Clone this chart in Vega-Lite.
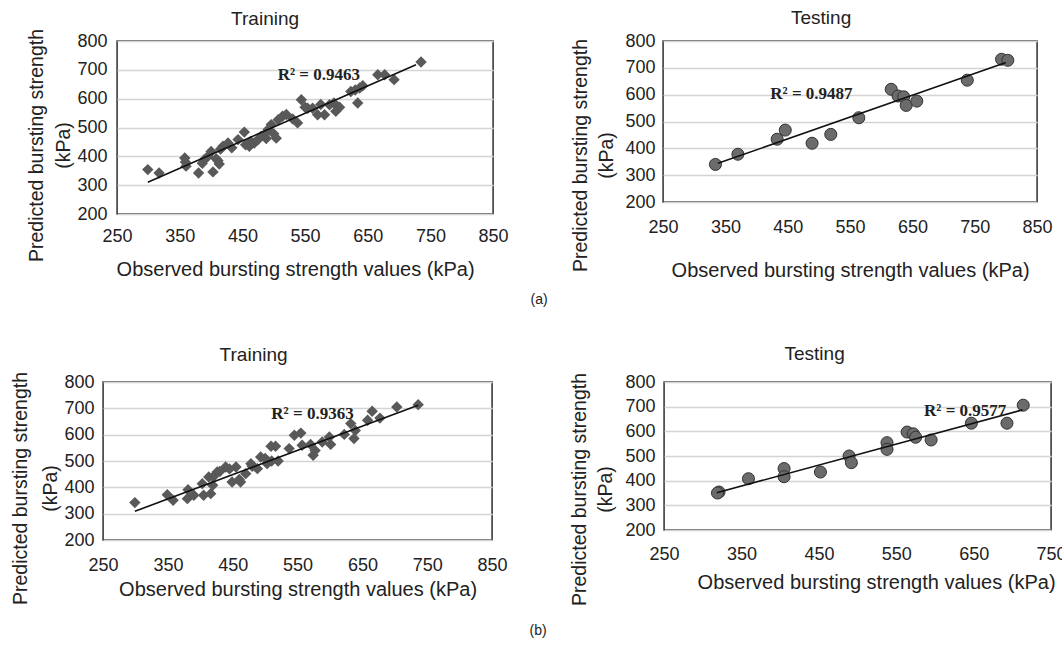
{
  "$schema": "https://vega.github.io/schema/vega-lite/v6.json",
  "background": "white",
  "padding": {"left": 9, "top": 8, "right": 0, "bottom": 0},
  "config": {
    "view": {"stroke": "#3c3c3c", "strokeWidth": 1.6},
    "axis": {
      "labelFont": "Liberation Sans", "titleFont": "Liberation Sans",
      "labelFontSize": 18, "titleFontSize": 20, "titleFontWeight": "normal",
      "labelColor": "#222", "titleColor": "#222",
      "domain": false, "ticks": false, "grid": true, "gridColor": "#d4d4d4", "gridWidth": 1.5
    },
    "axisX": {"grid": false, "labelFlush": false, "labelOverlap": false, "titleFontSize": 20},
    "axisY": {"labelOverlap": false, "titleFontSize": 19.5},
    "title": {"font": "Liberation Sans", "fontSize": 19, "fontWeight": "normal", "color": "#222"}
  },
  "datasets": {
    "tl_points": [
      {"observed": 299, "predicted": 354}, {"observed": 317, "predicted": 342}, {"observed": 358, "predicted": 394},
      {"observed": 359, "predicted": 380}, {"observed": 360, "predicted": 366}, {"observed": 380, "predicted": 342},
      {"observed": 386, "predicted": 376}, {"observed": 389, "predicted": 388}, {"observed": 395, "predicted": 400},
      {"observed": 400, "predicted": 417}, {"observed": 403, "predicted": 346}, {"observed": 408, "predicted": 392},
      {"observed": 411, "predicted": 385}, {"observed": 413, "predicted": 373}, {"observed": 415, "predicted": 425},
      {"observed": 419, "predicted": 435}, {"observed": 427, "predicted": 446}, {"observed": 433, "predicted": 430},
      {"observed": 443, "predicted": 458}, {"observed": 453, "predicted": 484}, {"observed": 455, "predicted": 440},
      {"observed": 461, "predicted": 435}, {"observed": 463, "predicted": 452}, {"observed": 469, "predicted": 446},
      {"observed": 475, "predicted": 458}, {"observed": 480, "predicted": 470}, {"observed": 485, "predicted": 475},
      {"observed": 488, "predicted": 462}, {"observed": 491, "predicted": 493}, {"observed": 496, "predicted": 510},
      {"observed": 500, "predicted": 478}, {"observed": 504, "predicted": 463}, {"observed": 507, "predicted": 527},
      {"observed": 514, "predicted": 539}, {"observed": 520, "predicted": 545}, {"observed": 530, "predicted": 530},
      {"observed": 538, "predicted": 516}, {"observed": 544, "predicted": 596}, {"observed": 550, "predicted": 570},
      {"observed": 554, "predicted": 567}, {"observed": 562, "predicted": 567}, {"observed": 570, "predicted": 544},
      {"observed": 575, "predicted": 580}, {"observed": 581, "predicted": 544}, {"observed": 589, "predicted": 579},
      {"observed": 596, "predicted": 585}, {"observed": 599, "predicted": 556}, {"observed": 605, "predicted": 570},
      {"observed": 623, "predicted": 625}, {"observed": 630, "predicted": 630}, {"observed": 634, "predicted": 585},
      {"observed": 637, "predicted": 637}, {"observed": 642, "predicted": 645}, {"observed": 666, "predicted": 683},
      {"observed": 677, "predicted": 683}, {"observed": 692, "predicted": 666}, {"observed": 735, "predicted": 727}
    ],
    "tl_line": [{"observed": 299, "predicted": 310}, {"observed": 727, "predicted": 718}],
    "tl_r2": [{"observed": 572, "predicted": 682, "label": "R² = 0.9463"}],
    "tr_points": [
      {"observed": 334, "predicted": 340}, {"observed": 370, "predicted": 378}, {"observed": 433, "predicted": 434},
      {"observed": 446, "predicted": 468}, {"observed": 489, "predicted": 419}, {"observed": 519, "predicted": 452},
      {"observed": 564, "predicted": 514}, {"observed": 616, "predicted": 620}, {"observed": 627, "predicted": 595},
      {"observed": 636, "predicted": 592}, {"observed": 640, "predicted": 560}, {"observed": 657, "predicted": 576},
      {"observed": 738, "predicted": 654}, {"observed": 793, "predicted": 732}, {"observed": 803, "predicted": 728}
    ],
    "tr_line": [{"observed": 338, "predicted": 344}, {"observed": 800, "predicted": 720}],
    "tr_r2": [{"observed": 488, "predicted": 601, "label": "R² = 0.9487"}],
    "bl_points": [
      {"observed": 299, "predicted": 342}, {"observed": 349, "predicted": 372}, {"observed": 358, "predicted": 351},
      {"observed": 380, "predicted": 357}, {"observed": 381, "predicted": 391}, {"observed": 390, "predicted": 370},
      {"observed": 403, "predicted": 414}, {"observed": 405, "predicted": 370}, {"observed": 413, "predicted": 439},
      {"observed": 416, "predicted": 376}, {"observed": 419, "predicted": 408}, {"observed": 420, "predicted": 440},
      {"observed": 426, "predicted": 458}, {"observed": 430, "predicted": 460}, {"observed": 439, "predicted": 477},
      {"observed": 445, "predicted": 470}, {"observed": 449, "predicted": 420}, {"observed": 455, "predicted": 477},
      {"observed": 460, "predicted": 430}, {"observed": 462, "predicted": 420}, {"observed": 470, "predicted": 452},
      {"observed": 478, "predicted": 490}, {"observed": 480, "predicted": 480}, {"observed": 488, "predicted": 471},
      {"observed": 493, "predicted": 515}, {"observed": 500, "predicted": 510}, {"observed": 503, "predicted": 490},
      {"observed": 510, "predicted": 500}, {"observed": 509, "predicted": 556}, {"observed": 516, "predicted": 556},
      {"observed": 520, "predicted": 500}, {"observed": 537, "predicted": 547}, {"observed": 545, "predicted": 598},
      {"observed": 555, "predicted": 606}, {"observed": 557, "predicted": 560}, {"observed": 570, "predicted": 563},
      {"observed": 574, "predicted": 522}, {"observed": 577, "predicted": 540}, {"observed": 588, "predicted": 572},
      {"observed": 599, "predicted": 591}, {"observed": 601, "predicted": 563}, {"observed": 622, "predicted": 601},
      {"observed": 632, "predicted": 642}, {"observed": 637, "predicted": 585}, {"observed": 639, "predicted": 616},
      {"observed": 658, "predicted": 655}, {"observed": 665, "predicted": 689}, {"observed": 677, "predicted": 663},
      {"observed": 703, "predicted": 705}, {"observed": 736, "predicted": 714}
    ],
    "bl_line": [{"observed": 299, "predicted": 309}, {"observed": 736, "predicted": 712}],
    "bl_r2": [{"observed": 573, "predicted": 680, "label": "R² = 0.9363"}],
    "br_points": [
      {"observed": 321, "predicted": 354}, {"observed": 319, "predicted": 350}, {"observed": 359, "predicted": 408},
      {"observed": 405, "predicted": 449}, {"observed": 405, "predicted": 416}, {"observed": 452, "predicted": 435},
      {"observed": 489, "predicted": 500}, {"observed": 492, "predicted": 473}, {"observed": 538, "predicted": 554},
      {"observed": 538, "predicted": 527}, {"observed": 564, "predicted": 597}, {"observed": 572, "predicted": 590},
      {"observed": 575, "predicted": 576}, {"observed": 595, "predicted": 565}, {"observed": 647, "predicted": 633},
      {"observed": 693, "predicted": 633}, {"observed": 714, "predicted": 706}
    ],
    "br_line": [{"observed": 318, "predicted": 351}, {"observed": 713, "predicted": 687}],
    "br_r2": [{"observed": 639, "predicted": 682, "label": "R² = 0.9577"}]
  },
  "columns": 1,
  "center": true,
  "spacing": 37,
  "concat": [
    {
      "title": {"text": "(a)", "orient": "bottom", "anchor": "middle", "offset": 12, "fontSize": 14},
      "spacing": 60,
      "hconcat": [
        {
          "width": 376, "height": 173,
          "title": {"text": "Training", "offset": -1, "dx": -40},
          "encoding": {
            "x": {"field": "observed", "type": "quantitative", "scale": {"domain": [250, 850], "nice": false, "zero": false},
                  "axis": {"values": [250, 350, 450, 550, 650, 750, 850], "title": "Observed bursting strength values (kPa)", "titleX": 178, "labelPadding": 13, "titlePadding": 14}},
            "y": {"field": "predicted", "type": "quantitative", "scale": {"domain": [200, 800], "nice": false, "zero": false},
                  "axis": {"values": [200, 300, 400, 500, 600, 700, 800], "title": ["Predicted bursting strength", "(kPa)"], "titleLineHeight": 27, "titleY": 104, "labelPadding": 10, "titlePadding": 4}}
          },
          "layer": [
            {"data": {"name": "tl_points"}, "mark": {"type": "point", "shape": "diamond", "filled": true, "size": 130, "color": "#595959", "opacity": 1}},
            {"data": {"name": "tl_line"}, "mark": {"type": "line", "color": "#111", "strokeWidth": 1.6}},
            {"data": {"name": "tl_r2"}, "mark": {"type": "text", "font": "Liberation Serif", "fontWeight": "bold", "fontSize": 17, "color": "#222"}, "encoding": {"text": {"field": "label"}}}
          ]
        },
        {
          "width": 374, "height": 161,
          "title": {"text": "Testing", "offset": 4, "dx": -29},
          "encoding": {
            "x": {"field": "observed", "type": "quantitative", "scale": {"domain": [250, 850], "nice": false, "zero": false},
                  "axis": {"values": [250, 350, 450, 550, 650, 750, 850], "title": "Observed bursting strength values (kPa)", "labelPadding": 16, "titlePadding": 24}},
            "y": {"field": "predicted", "type": "quantitative", "scale": {"domain": [200, 800], "nice": false, "zero": false},
                  "axis": {"values": [200, 300, 400, 500, 600, 700, 800], "title": ["Predicted bursting strength", "(kPa)"], "titleLineHeight": 26, "titleY": 114, "labelPadding": 8, "titlePadding": 9}}
          },
          "layer": [
            {"data": {"name": "tr_points"}, "mark": {"type": "point", "shape": "circle", "filled": true, "size": 145, "fill": "#6b6b6b", "stroke": "#333", "strokeWidth": 1, "opacity": 1}},
            {"data": {"name": "tr_line"}, "mark": {"type": "line", "color": "#111", "strokeWidth": 1.6}},
            {"data": {"name": "tr_r2"}, "mark": {"type": "text", "font": "Liberation Serif", "fontWeight": "bold", "fontSize": 17, "color": "#222"}, "encoding": {"text": {"field": "label"}}}
          ]
        }
      ]
    },
    {
      "title": {"text": "(b)", "orient": "bottom", "anchor": "middle", "offset": 18, "fontSize": 14},
      "spacing": 60,
      "hconcat": [
        {
          "width": 389, "height": 158,
          "title": {"text": "Training", "offset": 6, "dx": -44},
          "encoding": {
            "x": {"field": "observed", "type": "quantitative", "scale": {"domain": [250, 850], "nice": false, "zero": false},
                  "axis": {"values": [250, 350, 450, 550, 650, 750, 850], "title": "Observed bursting strength values (kPa)", "labelPadding": 16, "titlePadding": 5}},
            "y": {"field": "predicted", "type": "quantitative", "scale": {"domain": [200, 800], "nice": false, "zero": false},
                  "axis": {"values": [200, 300, 400, 500, 600, 700, 800], "title": ["Predicted bursting strength", "(kPa)"], "titleLineHeight": 30, "titleY": 106, "labelPadding": 9, "titlePadding": 4}}
          },
          "layer": [
            {"data": {"name": "bl_points"}, "mark": {"type": "point", "shape": "diamond", "filled": true, "size": 130, "color": "#595959", "opacity": 1}},
            {"data": {"name": "bl_line"}, "mark": {"type": "line", "color": "#111", "strokeWidth": 1.6}},
            {"data": {"name": "bl_r2"}, "mark": {"type": "text", "font": "Liberation Serif", "fontWeight": "bold", "fontSize": 17, "color": "#222"}, "encoding": {"text": {"field": "label"}}}
          ]
        },
        {
          "width": 387, "height": 148,
          "title": {"text": "Testing", "offset": 8, "dx": -43},
          "encoding": {
            "x": {"field": "observed", "type": "quantitative", "scale": {"domain": [250, 750], "nice": false, "zero": false},
                  "axis": {"values": [250, 350, 450, 550, 650, 750], "title": "Observed bursting strength values (kPa)", "titleX": 212, "labelPadding": 15, "titlePadding": 9}},
            "y": {"field": "predicted", "type": "quantitative", "scale": {"domain": [200, 800], "nice": false, "zero": false},
                  "axis": {"values": [200, 300, 400, 500, 600, 700, 800], "title": ["Predicted bursting strength", "(kPa)"], "titleLineHeight": 26, "titleY": 107, "labelPadding": 9, "titlePadding": 10}}
          },
          "layer": [
            {"data": {"name": "br_points"}, "mark": {"type": "point", "shape": "circle", "filled": true, "size": 145, "fill": "#6b6b6b", "stroke": "#333", "strokeWidth": 1, "opacity": 1}},
            {"data": {"name": "br_line"}, "mark": {"type": "line", "color": "#111", "strokeWidth": 1.6}},
            {"data": {"name": "br_r2"}, "mark": {"type": "text", "font": "Liberation Serif", "fontWeight": "bold", "fontSize": 17, "color": "#222"}, "encoding": {"text": {"field": "label"}}}
          ]
        }
      ]
    }
  ]
}
